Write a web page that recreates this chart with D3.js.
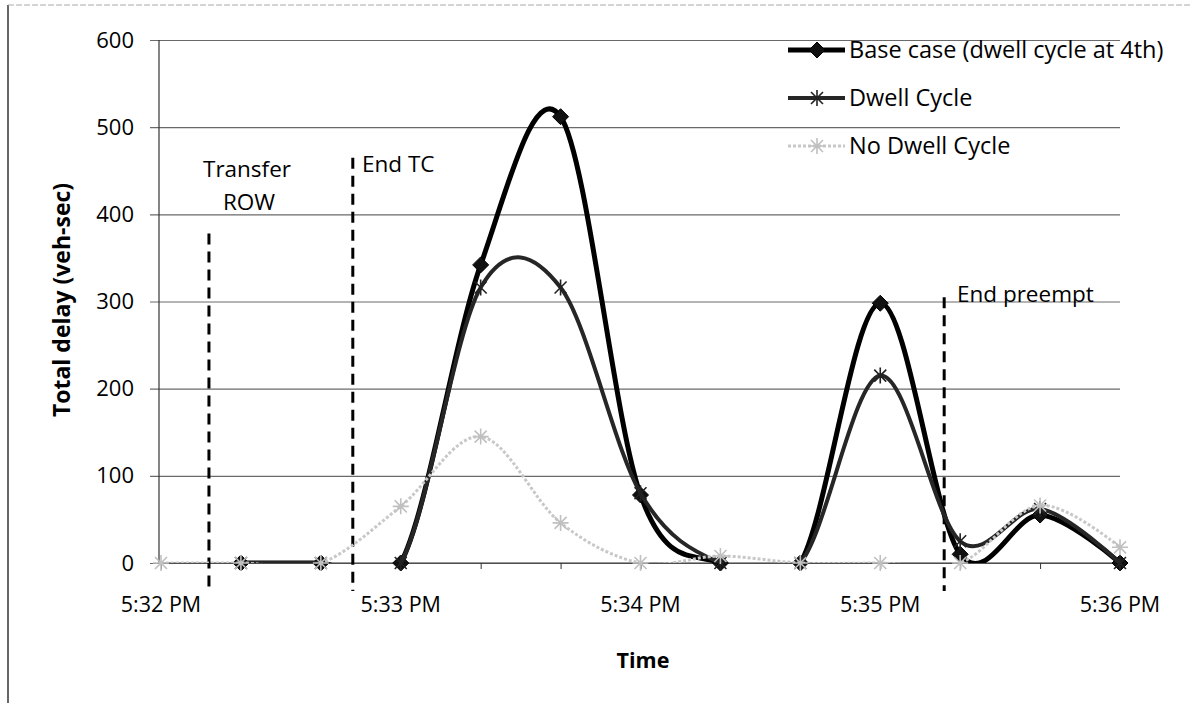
<!DOCTYPE html>
<html><head><meta charset="utf-8">
<script src="https://cdn.jsdelivr.net/npm/d3@7"></script>
<style>
body{margin:0;background:#fff}
svg{display:block}
text{font-family:"Open Sans","Noto Sans",sans-serif;fill:#000}
</style>
</head><body>
<svg id="chart" width="1192" height="703"></svg>
<script>
// ---- data ----
const times = ["5:32:00 PM","5:32:20 PM","5:32:40 PM","5:33:00 PM","5:33:20 PM","5:33:40 PM","5:34:00 PM",
               "5:34:20 PM","5:34:40 PM","5:35:00 PM","5:35:20 PM","5:35:40 PM","5:36:00 PM"];
const baseCase     = [null, 0, 0, 0, 342, 512, 78, 0, 0, 298, 10, 55, 0];
const dwellCycle   = [null, 0, 0, 0, 316, 316, 80, 0, 0, 215, 25, 62, 0];
const noDwellCycle = [0, 0, 0, 65, 145, 46, 0, 8, 0, 0, 0, 66, 18];
const seriesNames  = ["Base case (dwell cycle at 4th)", "Dwell Cycle", "No Dwell Cycle"];
const yTickValues  = [0, 100, 200, 300, 400, 500, 600];
const xLabelTimes  = ["5:32:00 PM","5:33:00 PM","5:34:00 PM","5:35:00 PM","5:36:00 PM"];
const eventTimes   = ["5:32:12 PM", "5:32:48 PM", "5:35:16 PM"];
const eventTops    = [378, 465, 305];
const eventLabels  = [["Transfer","ROW"], ["End TC"], ["End preempt"]];
const yTitle = "Total delay (veh-sec)";
const xTitle = "Time";

// ---- setup ----
const parse = d3.timeParse("%I:%M:%S %p");
const svg = d3.select("#chart");
const L = 160, R = 1120, T = 40, B = 563;
const x = d3.scaleTime().domain([parse(times[0]), parse(times[times.length-1])]).range([161, R]);
const y = d3.scaleLinear().domain([0, 600]).range([B, T]);

// frame
svg.append("line").attr("x1", 8).attr("x2", 8).attr("y1", 5).attr("y2", 703)
  .attr("stroke", "#333").attr("stroke-width", 1.5);
svg.append("line").attr("x1", 8).attr("x2", 1192).attr("y1", 5).attr("y2", 5)
  .attr("stroke", "#aaa").attr("stroke-width", 1).attr("stroke-dasharray", "6 2");

// gridlines
const yAxis = d3.axisLeft(y).tickValues(yTickValues).tickSize(-(R - 150)).tickPadding(0).tickFormat(d3.format("d"));
const gy = svg.append("g").attr("transform", `translate(150,0)`).call(yAxis);
gy.select(".domain").remove();
gy.selectAll(".tick line").attr("stroke", "#6a6a6a").attr("stroke-width", 1.2);
gy.selectAll(".tick text").attr("x", -16).attr("font-size", 22)
  .attr("font-family", '"Open Sans",sans-serif').attr("fill", "#000");

// y axis line
svg.append("line").attr("x1", 159).attr("x2", 159).attr("y1", T).attr("y2", B)
  .attr("stroke", "#333").attr("stroke-width", 1.2);

// x axis
const tickDates = times.map(parse);
const xAxis = d3.axisBottom(x).tickValues(tickDates).tickSize(6).tickFormat("");
const gx = svg.append("g").attr("transform", `translate(0,${B})`).call(xAxis);
gx.select(".domain").attr("d", `M${L},0H${R}`).attr("stroke", "#333").attr("stroke-width", 1.2);
gx.selectAll(".tick line").attr("stroke", "#333");
const fmt = d3.timeFormat("%-I:%M %p");
svg.append("g").selectAll("text").data(xLabelTimes.map(parse)).join("text")
  .attr("x", d => x(d)).attr("y", 612).attr("text-anchor", "middle")
  .attr("font-size", 21.5).text(d => fmt(d));

// axis titles
svg.append("text").attr("transform", "translate(70,300) rotate(-90)")
  .attr("text-anchor", "middle").attr("font-size", 23).attr("font-weight", "bold").text(yTitle);
svg.append("text").attr("x", 643).attr("y", 668).attr("text-anchor", "middle")
  .attr("font-size", 21.5).attr("font-weight", "bold").text(xTitle);

// clip
svg.append("clipPath").attr("id", "plotclip").append("rect")
  .attr("x", L).attr("y", T - 10).attr("width", R - L + 10).attr("height", B - T + 10);

const line = d3.line().defined(d => d.v != null).x(d => x(d.t)).y(d => y(d.v))
  .curve(d3.curveCardinal.tension(0));
const mk = arr => times.map((t, i) => ({t: parse(t), v: arr[i]}));

const diamondPath = "M0,-8L8,0L0,8L-8,0Z";
const asteriskPath = "M-6,-6L6,6M-6,6L6,-6M0,-8L0,8";
const starPath = "M-6,-6L6,6M-6,6L6,-6M0,-8L0,8M-8,0L8,0";

const series = [
  {name: seriesNames[0], data: mk(baseCase), color: "#000", width: 5, marker: diamondPath, fill: "#111", mstroke: "#000", mw: 1},
  {name: seriesNames[1], data: mk(dwellCycle), color: "#262626", width: 4, marker: asteriskPath, fill: "none", mstroke: "#222", mw: 1.6},
  {name: seriesNames[2], data: mk(noDwellCycle), color: "#c8c8c8", width: 3, marker: starPath, fill: "none", mstroke: "#c0c0c0", mw: 1.6, dash: "3 2"}
];

// annotation dashed lines (drawn under series)
const ann = svg.append("g");
eventTimes.forEach((t, i) => {
  ann.append("line").attr("x1", x(parse(t))).attr("x2", x(parse(t)))
    .attr("y1", y(eventTops[i])).attr("y2", 591)
    .attr("stroke", "#000").attr("stroke-width", 3).attr("stroke-dasharray", "11 7");
});

series.forEach(s => {
  svg.append("path").datum(s.data).attr("d", line).attr("fill", "none")
    .attr("stroke", s.color).attr("stroke-width", s.width).attr("stroke-linejoin", "round")
    .attr("stroke-dasharray", s.dash || null)
    .attr("clip-path", "url(#plotclip)");
  svg.append("g").selectAll("path").data(s.data.filter(d => d.v != null)).join("path")
    .attr("d", s.marker).attr("transform", d => `translate(${x(d.t)},${y(d.v)})`)
    .attr("fill", s.fill).attr("stroke", s.mstroke).attr("stroke-width", s.mw);
});

// annotation labels
const labelPos = [
  [{x: 247, y: 177, anchor: "middle"}, {x: 249, y: 210, anchor: "middle"}],
  [{x: 362, y: 172, anchor: "start"}],
  [{x: 957, y: 302, anchor: "start"}]
];
eventLabels.forEach((lines, i) => {
  lines.forEach((txt, j) => {
    svg.append("text").attr("x", labelPos[i][j].x).attr("y", labelPos[i][j].y)
      .attr("text-anchor", labelPos[i][j].anchor).attr("font-size", 22.5).text(txt);
  });
});

// legend
const leg = svg.append("g");
const legY = [50, 98, 146];
series.forEach((s, i) => {
  const g = leg.append("g").attr("transform", `translate(0,${legY[i]})`);
  g.append("line").attr("x1", 788).attr("x2", 845).attr("y1", 0).attr("y2", 0)
    .attr("stroke", s.color).attr("stroke-width", s.width).attr("stroke-dasharray", s.dash || null);
  g.append("path").attr("d", s.marker).attr("transform", "translate(817,0)")
    .attr("fill", s.fill).attr("stroke", s.mstroke).attr("stroke-width", s.mw);
  g.append("text").attr("x", 849).attr("y", 0).attr("dy", "0.35em").attr("font-size", 23.5).text(s.name);
});
</script>
</body></html>
